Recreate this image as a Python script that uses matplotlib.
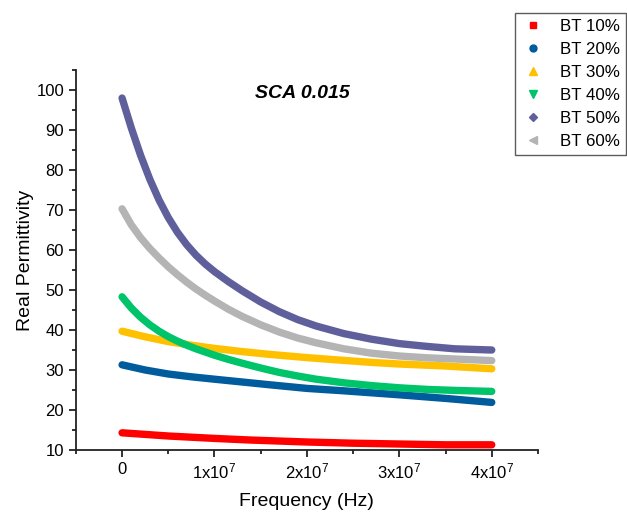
import numpy as np
import matplotlib
matplotlib.use("Agg")
import matplotlib.pyplot as plt
from matplotlib.lines import Line2D
from matplotlib.ticker import MultipleLocator, FuncFormatter

plt.rcParams['font.family'] = ['Liberation Sans', 'DejaVu Sans']
plt.rcParams['mathtext.default'] = 'regular'

# frequency in units of 1e7 Hz, real permittivity per composition
f_bt10 = [0, 0.5, 1.0, 1.38, 2.0, 2.5, 3.0, 3.5, 4.0]
e_bt10 = [14.3, 13.5, 12.9, 12.5, 12.0, 11.7, 11.5, 11.3, 11.3]

f_bt20 = [0, 0.25, 0.5, 0.75, 1.0, 1.3, 1.6, 2.0, 2.4, 2.7, 3.0, 3.5, 4.0]
e_bt20 = [31.3, 30.0, 29.0, 28.3, 27.7, 27.0, 26.3, 25.4, 24.8, 24.3, 23.8, 22.9, 21.9]

f_bt30 = [0, 0.25, 0.5, 0.75, 1.0, 1.3, 1.6, 2.0, 2.4, 2.7, 3.0, 3.5, 4.0]
e_bt30 = [39.7, 38.3, 37.1, 36.2, 35.4, 34.6, 33.9, 33.1, 32.4, 31.9, 31.5, 31.0, 30.3]

f_bt40 = [0, 0.1, 0.2, 0.3, 0.4, 0.5, 0.6, 0.7, 0.8, 0.9, 1.0, 1.15, 1.3,
          1.5, 1.7, 1.9, 2.1, 2.4, 2.7, 3.0, 3.3, 3.6, 4.0]
e_bt40 = [48.3, 45.5, 43.2, 41.3, 39.7, 38.35, 37.2, 36.2, 35.3, 34.5, 33.7,
          32.65, 31.7, 30.5, 29.4, 28.5, 27.7, 26.8, 26.1, 25.55, 25.15, 24.9, 24.65]

f_bt50 = [0, 0.1, 0.2, 0.3, 0.4, 0.5, 0.6, 0.7, 0.8, 0.9, 1.0, 1.15, 1.3,
          1.5, 1.7, 1.9, 2.1, 2.4, 2.7, 3.0, 3.3, 3.6, 4.0]
e_bt50 = [98, 90.5, 83.7, 77.7, 72.5, 68.1, 64.4, 61.3, 58.7, 56.5, 54.6,
          52.1, 49.8, 47.0, 44.6, 42.6, 41.0, 39.1, 37.7, 36.6, 35.9, 35.3, 35.0]

f_bt60 = [0, 0.1, 0.2, 0.3, 0.4, 0.5, 0.6, 0.7, 0.8, 0.9, 1.0, 1.15, 1.3,
          1.5, 1.7, 1.9, 2.1, 2.4, 2.7, 3.0, 3.3, 3.6, 4.0]
e_bt60 = [70.3, 66.3, 63.1, 60.4, 58.0, 55.8, 53.8, 51.95, 50.25, 48.7, 47.25,
          45.2, 43.4, 41.3, 39.5, 38.0, 36.8, 35.3, 34.2, 33.5, 33.05, 32.75, 32.35]

labels = ['BT 10%', 'BT 20%', 'BT 30%', 'BT 40%', 'BT 50%', 'BT 60%']
colors = ['#ff0000', '#005c9c', '#ffc000', '#00c46a', '#5f5f9c', '#b4b4b4']
markers = ['s', 'o', '^', 'v', 'D', '<']
msizes = [4.6, 5.0, 5.2, 5.2, 4.0, 5.2]

series = [(f_bt10, e_bt10), (f_bt20, e_bt20), (f_bt30, e_bt30),
          (f_bt40, e_bt40), (f_bt50, e_bt50), (f_bt60, e_bt60)]

fig = plt.figure(figsize=(6.27, 5.13), dpi=100)
ax = fig.add_axes([0.121, 0.1228, 0.737, 0.7407])

for (f, e), c in zip(series, colors):
    ax.plot(np.array(f) * 1e7, e, color=c, lw=5.3, solid_capstyle='round',
            solid_joinstyle='round')

ax.set_xlim(-0.5e7, 4.5e7)
ax.set_ylim(10, 105)
ax.xaxis.set_major_locator(MultipleLocator(1e7))
ax.xaxis.set_minor_locator(MultipleLocator(0.5e7))
ax.yaxis.set_major_locator(MultipleLocator(10))
ax.yaxis.set_minor_locator(MultipleLocator(5))


def fmt_x(v, pos):
    n = int(round(v / 1e7))
    if n == 0:
        return '0'
    return r'%dx10$^{7}$' % n


ax.xaxis.set_major_formatter(FuncFormatter(fmt_x))
ax.set_yticks(range(10, 101, 10))

for s in ['top', 'right']:
    ax.spines[s].set_visible(False)
for s in ['left', 'bottom']:
    ax.spines[s].set_linewidth(1.3)
    ax.spines[s].set_color('#222222')

ax.tick_params(which='major', direction='out', length=5, width=1.3,
               labelsize=12, color='#222222')
ax.tick_params(which='minor', direction='out', length=3, width=1.3,
               color='#222222')

ax.set_xlabel('Frequency (Hz)', fontsize=14, labelpad=8)
ax.set_ylabel('Real Permittivity', fontsize=14, labelpad=2)

ax.text(1.95e7, 99.2, 'SCA 0.015', fontsize=14, fontweight='bold',
        fontstyle='italic', ha='center', va='center')

handles = [Line2D([], [], ls='none', marker=m, color=c, markersize=s)
           for m, c, s in zip(markers, colors, msizes)]
leg = fig.legend(handles, labels, loc='upper left',
                 bbox_to_anchor=(0.822, 0.975), fontsize=12.2,
                 frameon=True, fancybox=False, edgecolor='#333333',
                 handlelength=1.4, handletextpad=0.9, labelspacing=0.47,
                 borderpad=0.35, borderaxespad=0)
leg.get_frame().set_linewidth(1.0)

fig.savefig('out.png', dpi=100)
